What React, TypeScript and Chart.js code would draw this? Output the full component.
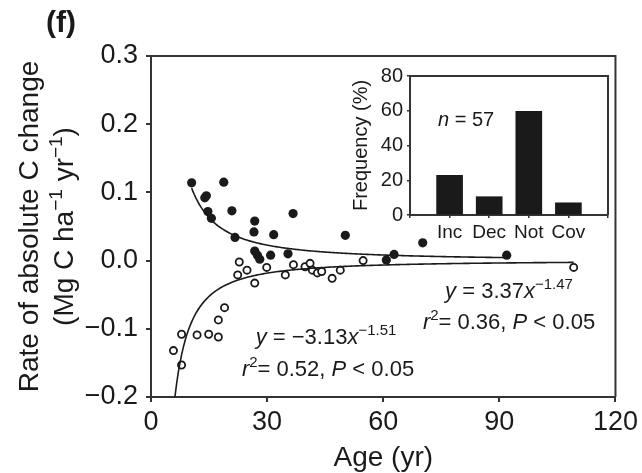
import React, { useEffect, useRef } from "react";
import { Chart, registerables } from "chart.js";

Chart.register(...registerables);

const FAMILY = '"Liberation Sans", Arial, Helvetica, sans-serif';
const INK = "#1a1a1a";
const AXIS = "#333333";

// Stand age (yr) and rate of absolute C change (Mg C ha-1 yr-1)
const INC_AGE = [10.5, 18.8, 14.3, 13.9, 14.7, 15.6, 20.9, 36.7, 26.8, 26.6, 31.7, 21.7, 50.2, 26.8, 27.5, 28.1, 30.9, 35.4, 60.8, 62.8, 70.2, 91.9];
const INC_RATE = [0.114, 0.115, 0.095, 0.092, 0.072, 0.062, 0.073, 0.069, 0.058, 0.042, 0.038, 0.034, 0.037, 0.014, 0.008, 0.002, 0.008, 0.010, 0.001, 0.009, 0.026, 0.008];

const DEC_AGE = [22.8, 24.8, 22.4, 26.8, 29.9, 34.7, 36.8, 39.8, 41.1, 41.7, 43.0, 44.1, 46.8, 48.9, 54.8, 19.0, 17.4, 17.4, 14.9, 11.9, 7.9, 5.8, 7.9, 109.2];
const DEC_RATE = [-0.002, -0.014, -0.021, -0.033, -0.010, -0.021, -0.006, -0.009, -0.004, -0.014, -0.018, -0.016, -0.026, -0.014, 0.0, -0.069, -0.087, -0.112, -0.108, -0.109, -0.108, -0.132, -0.153, -0.010];

// Power-law fits y = a * x^b
const INC_FIT = { a: 3.37, b: -1.47, r2: "0.36", from: 10.5, to: 92 };
const DEC_FIT = { a: -3.13, b: -1.51, r2: "0.52", from: 6.0, to: 109.2 };

const X_MIN = 0;
const X_MAX = 120;
const X_STEP = 30;
const Y_MIN = -0.2;
const Y_MAX = 0.3;
const Y_STEP = 0.1;

// Inset: frequency of response classes
const FREQ_LABELS = ["Inc", "Dec", "Not", "Cov"];
const FREQ_COUNTS = [13, 6, 34, 4];
const FREQ_TICKS_MAX = 80;
const FREQ_STEP = 20;

type Run = { t: string; italic?: boolean; sup?: boolean; bold?: boolean };

function runFont(r: Run, size: number) {
  const s = r.sup ? Math.round(size * 0.68) : size;
  return `${r.italic ? "italic " : ""}${r.bold ? "bold " : ""}${s}px ${FAMILY}`;
}

function drawRuns(ctx: CanvasRenderingContext2D, runs: Run[], x: number, baseline: number, size: number, align: "center" | "left" = "center") {
  ctx.textAlign = "left";
  ctx.textBaseline = "alphabetic";
  const widths = runs.map((r) => {
    ctx.font = runFont(r, size);
    return ctx.measureText(r.t).width;
  });
  const total = widths.reduce((s, w) => s + w, 0);
  let cx = align === "center" ? x - total / 2 : x;
  runs.forEach((r, i) => {
    ctx.font = runFont(r, size);
    ctx.fillText(r.t, cx, baseline - (r.sup ? size * 0.4 : 0));
    cx += widths[i];
  });
}

function fitPoints(fit: { a: number; b: number; from: number; to: number }) {
  const pts: { x: number; y: number }[] = [];
  const n = 240;
  for (let i = 0; i <= n; i++) {
    const x = fit.from + ((fit.to - fit.from) * i) / n;
    pts.push({ x, y: fit.a * Math.pow(x, fit.b) });
  }
  return pts;
}

function fmtNum(v: number, d: number) {
  return v.toFixed(d).replace("-", "\u2212");
}

function eqRuns(fit: { a: number; b: number }): Run[] {
  return [
    { t: "y", italic: true },
    { t: " = " + fmtNum(fit.a, 2) },
    { t: "x", italic: true },
    { t: fmtNum(fit.b, 2), sup: true },
  ];
}

function statRuns(r2: string): Run[] {
  return [
    { t: "r", italic: true },
    { t: "2", sup: true },
    { t: "= " + r2 + ", " },
    { t: "P", italic: true },
    { t: " < 0.05" },
  ];
}

const mainDecor = {
  id: "mainDecor",
  afterDraw(chart: any) {
    const ctx: CanvasRenderingContext2D = chart.ctx;
    const a = chart.chartArea;
    ctx.save();
    ctx.strokeStyle = AXIS;
    ctx.lineWidth = 2;
    ctx.beginPath();
    ctx.moveTo(a.left, a.top);
    ctx.lineTo(a.right, a.top);
    ctx.lineTo(a.right, a.bottom);
    ctx.stroke();

    ctx.fillStyle = INK;
    // panel letter
    drawRuns(ctx, [{ t: "(f)", bold: true }], 46, 32, 30, "left");
    // x title
    drawRuns(ctx, [{ t: "Age (yr)" }], (a.left + a.right) / 2, 466, 28);
    // y title, two lines
    const cy = (a.top + a.bottom) / 2;
    ctx.save();
    ctx.translate(38, cy);
    ctx.rotate(-Math.PI / 2);
    drawRuns(ctx, [{ t: "Rate of absolute C change" }], 0, 0, 28);
    ctx.restore();
    ctx.save();
    ctx.translate(73, cy);
    ctx.rotate(-Math.PI / 2);
    drawRuns(
      ctx,
      [{ t: "(Mg C ha" }, { t: "\u22121", sup: true }, { t: " yr" }, { t: "\u22121", sup: true }, { t: ")" }],
      0,
      0,
      28
    );
    ctx.restore();

    // fit equations
    drawRuns(ctx, eqRuns(DEC_FIT), 326, 344, 22);
    drawRuns(ctx, statRuns(DEC_FIT.r2), 328, 376, 22);
    drawRuns(ctx, eqRuns(INC_FIT), 509, 298, 22);
    drawRuns(ctx, statRuns(INC_FIT.r2), 509, 329, 22);
    ctx.restore();
  },
};

const insetDecor = {
  id: "insetDecor",
  afterDraw(chart: any) {
    const ctx: CanvasRenderingContext2D = chart.ctx;
    const a = chart.chartArea;
    ctx.save();
    ctx.strokeStyle = AXIS;
    ctx.lineWidth = 2;
    ctx.beginPath();
    ctx.moveTo(a.left, a.top);
    ctx.lineTo(a.right, a.top);
    ctx.lineTo(a.right, a.bottom);
    ctx.stroke();
    ctx.fillStyle = INK;
    const n = FREQ_COUNTS.reduce((s, c) => s + c, 0);
    drawRuns(ctx, [{ t: "n", italic: true }, { t: " = " + n }], 108, 66, 20, "left");
    ctx.save();
    ctx.translate(37, (a.top + a.bottom) / 2);
    ctx.rotate(-Math.PI / 2);
    drawRuns(ctx, [{ t: "Frequency (%)" }], 0, 0, 20);
    ctx.restore();
    ctx.restore();
  },
};

export default function App() {
  const mainRef = useRef<HTMLCanvasElement>(null);
  const insetRef = useRef<HTMLCanvasElement>(null);

  useEffect(() => {
    const incPts = INC_AGE.map((x, i) => ({ x, y: INC_RATE[i] }));
    const decPts = DEC_AGE.map((x, i) => ({ x, y: DEC_RATE[i] }));
    const decFrom = Math.pow(Y_MIN / DEC_FIT.a, 1 / DEC_FIT.b);
    const decFit = fitPoints({ ...DEC_FIT, from: Math.max(DEC_FIT.from, decFrom) });
    const incFit = fitPoints(INC_FIT);

    const main = new Chart(mainRef.current!, {
      type: "scatter",
      data: {
        datasets: [
          { data: incFit, showLine: true, borderColor: INK, borderWidth: 1.6, pointRadius: 0, fill: false },
          { data: decFit, showLine: true, borderColor: INK, borderWidth: 1.6, pointRadius: 0, fill: false },
          { data: incPts, pointRadius: 4.6, pointBackgroundColor: INK, pointBorderColor: INK, pointBorderWidth: 0 },
          { data: decPts, pointRadius: 3.6, pointBackgroundColor: "#ffffff", pointBorderColor: INK, pointBorderWidth: 1.8 },
        ],
      },
      options: {
        responsive: false,
        animation: false,
        devicePixelRatio: 1,
        layout: { padding: { top: 56, right: 21, left: 0, bottom: 0 } },
        plugins: { legend: { display: false }, tooltip: { enabled: false } },
        scales: {
          x: {
            type: "linear",
            min: X_MIN,
            max: X_MAX,
            afterFit: (s: any) => {
              s.height = 76;
            },
            ticks: { stepSize: X_STEP, color: INK, font: { family: FAMILY, size: 27 }, padding: 4, maxRotation: 0 },
            grid: { display: true, drawOnChartArea: false, drawTicks: true, tickLength: 5, color: AXIS, lineWidth: 2 },
            border: { display: true, color: AXIS, width: 2 },
          },
          y: {
            type: "linear",
            min: Y_MIN,
            max: Y_MAX,
            afterFit: (s: any) => {
              s.width = 151;
            },
            ticks: {
              stepSize: Y_STEP,
              color: INK,
              font: { family: FAMILY, size: 27 },
              padding: 8,
              callback: (v: any) => fmtNum(Number(v), 1),
            },
            grid: { display: true, drawOnChartArea: false, drawTicks: true, tickLength: 5, color: AXIS, lineWidth: 2 },
            border: { display: true, color: AXIS, width: 2 },
          },
        },
      },
      plugins: [mainDecor],
    });

    const n = FREQ_COUNTS.reduce((s, c) => s + c, 0);
    const freq = FREQ_COUNTS.map((c, i) => ({ x: i + 1, y: (100 * c) / n }));
    const inset = new Chart(insetRef.current!, {
      type: "bar",
      data: {
        datasets: [{ data: freq, backgroundColor: INK, borderWidth: 0, barThickness: 26 }],
      },
      options: {
        responsive: false,
        animation: false,
        devicePixelRatio: 1,
        layout: { padding: { top: 12, right: 12, left: 0, bottom: 0 } },
        plugins: { legend: { display: false }, tooltip: { enabled: false } },
        scales: {
          x: {
            type: "linear",
            offset: false,
            min: 0,
            max: FREQ_LABELS.length + 1,
            afterFit: (s: any) => {
              s.height = 35;
            },
            ticks: {
              stepSize: 1,
              color: INK,
              font: { family: FAMILY, size: 19 },
              padding: 3,
              maxRotation: 0,
              autoSkip: false,
              callback: (v: any) => FREQ_LABELS[Number(v) - 1] ?? "",
            },
            grid: { display: true, offset: false, drawOnChartArea: false, drawTicks: true, tickLength: 3, color: AXIS, lineWidth: 1.5 },
            border: { display: true, color: AXIS, width: 2 },
          },
          y: {
            type: "linear",
            min: 0,
            max: FREQ_TICKS_MAX,
            afterFit: (s: any) => {
              s.width = 80;
            },
            ticks: { stepSize: FREQ_STEP, color: INK, font: { family: FAMILY, size: 20 }, padding: 4 },
            grid: { display: true, drawOnChartArea: false, drawTicks: true, tickLength: 3, color: AXIS, lineWidth: 1.5 },
            border: { display: true, color: AXIS, width: 2 },
          },
        },
      },
      plugins: [insetDecor],
    });

    return () => {
      main.destroy();
      inset.destroy();
    };
  }, []);

  return (
    <div style={{ position: "absolute", left: 0, top: 0, width: 642, height: 473, background: "#ffffff" }}>
      <canvas ref={mainRef} width={642} height={473} style={{ position: "absolute", left: 0, top: 0, width: 642, height: 473 }} />
      <canvas ref={insetRef} width={290} height={190} style={{ position: "absolute", left: 330, top: 60, width: 290, height: 190 }} />
    </div>
  );
}
